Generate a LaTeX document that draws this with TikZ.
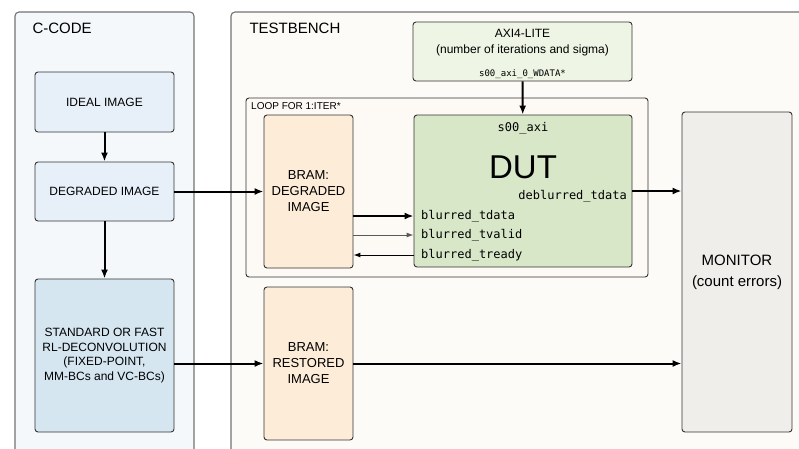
\documentclass[tikz,border=0pt]{standalone}
\usepackage{fontspec}
\setmainfont{Liberation Sans}
\setmonofont{DejaVu Sans Mono}
\usetikzlibrary{arrows.meta}

\definecolor{ccodebg}{HTML}{F4F8FB}
\definecolor{imgbg}{HTML}{E7F0F8}
\definecolor{rlbg}{HTML}{D5E6F1}
\definecolor{tbbg}{HTML}{FDFBF7}
\definecolor{loopbg}{HTML}{FDF9F4}
\definecolor{brambg}{HTML}{FDECD8}
\definecolor{axibg}{HTML}{EEF5E4}
\definecolor{dutbg}{HTML}{D9E7C9}
\definecolor{monbg}{HTML}{EFEEEB}

\tikzset{
  panel/.style={draw=black!55, line width=1.1pt, rounded corners=4pt},
  blk/.style={draw=black!80, line width=0.9pt, rounded corners=3pt, align=center,
    inner sep=0pt, font=\fontsize{12}{14.5}\selectfont},
  bram/.style={blk, fill=brambg, minimum width=89pt, minimum height=153pt,
    font=\fontsize{13}{16}\selectfont},
  sig/.style={font=\ttfamily\fontsize{12}{14}\selectfont, inner sep=0pt},
  flow/.style={line width=2pt, -{Latex[length=9pt,width=7pt]}},
  handshake/.style={line width=1pt, -{Latex[length=7pt,width=5pt]}}
}

\begin{document}
\begin{tikzpicture}[x=1pt,y=-1pt]
\useasboundingbox (0,0) rectangle (799,448);
\clip (0,0) rectangle (799,448);
\fill[white] (0,0) rectangle (799,448);

% panels
\draw[panel, fill=ccodebg] (15,12) rectangle (194,480);
\draw[panel, fill=tbbg] (231,12) rectangle (830,480);
\node[anchor=west, font=\fontsize{15}{18}\selectfont] (ccodelbl) at (29,28) {C-CODE};
\node[anchor=west, font=\fontsize{15}{18}\selectfont] (tblbl) at (246,28) {TESTBENCH};
\draw[blk, fill=loopbg] (246,98) rectangle (648,277);
\node[anchor=west, font=\fontsize{10}{12}\selectfont, inner sep=0pt] (looplbl) at (251,106) {LOOP FOR 1:ITER*};

% c-code
\node[blk, fill=imgbg, minimum width=139pt, minimum height=60pt] (ideal) at (104.5,102) {IDEAL IMAGE};
\node[blk, fill=imgbg, minimum width=139pt, minimum height=59pt] (degraded) at (104.5,191.5) {DEGRADED IMAGE};
\node[blk, fill=rlbg, minimum width=139pt, minimum height=153pt] (rldeconv) at (104.5,355.5)
  {STANDARD OR FAST\\RL-DECONVOLUTION\\(FIXED-POINT,\\MM-BCs and VC-BCs)};

% testbench
\node[blk, fill=axibg, minimum width=219pt, minimum height=59pt] (axi) at (522.5,51.5) {};
\node[align=center, inner sep=0pt, font=\fontsize{12}{16}\selectfont] (axilbl) at (522.5,43) {AXI4-LITE\\(number of iterations and sigma)};
\node[sig, font=\ttfamily\fontsize{9}{10}\selectfont] (wdata) at (522.5,74) {s00\_axi\_0\_WDATA*};

\node[bram] (bramdeg) at (308.5,191.5) {BRAM:\\DEGRADED\\IMAGE};
\node[bram] (bramres) at (308.5,363.5) {BRAM:\\RESTORED\\IMAGE};

\node[blk, fill=dutbg, minimum width=218pt, minimum height=152pt] (dut) at (523,191) {};
\node[sig] (saxi) at (523,128) {s00\_axi};
\node[inner sep=0pt, font=\fontsize{33}{36}\selectfont] (dutlbl) at (523,167) {DUT};
\node[sig, anchor=east] (deb) at (627,196) {deblurred\_tdata};
\node[sig, anchor=west] (tdata) at (421,216) {blurred\_tdata};
\node[sig, anchor=west] (tvalid) at (421,235) {blurred\_tvalid};
\node[sig, anchor=west] (tready) at (421,255) {blurred\_tready};

\node[blk, fill=monbg, minimum width=110pt, minimum height=320pt, font=\fontsize{15}{21}\selectfont] (monitor) at (737,272) {MONITOR\\(count errors)};

% connections
\draw[flow] (ideal) -- (degraded);
\draw[flow] (degraded) -- (rldeconv);
\draw[flow] (degraded.east) -- (degraded.east -| bramdeg.west);
\draw[flow] (rldeconv.east |- bramres) -- (bramres.west);
\draw[flow] (axi) -- (dut);
\draw[flow] (bramdeg.east |- tdata) -- (tdata -| dut.west);
\draw[handshake, black!65] (bramdeg.east |- tvalid) -- (tvalid -| dut.west);
\draw[handshake] (tready -| dut.west) -- (bramdeg.east |- tready);
\draw[flow] (dut.east) -- (dut.east -| monitor.west);
\draw[flow] (bramres.east) -- (bramres.east -| monitor.west);

\end{tikzpicture}
\end{document}
